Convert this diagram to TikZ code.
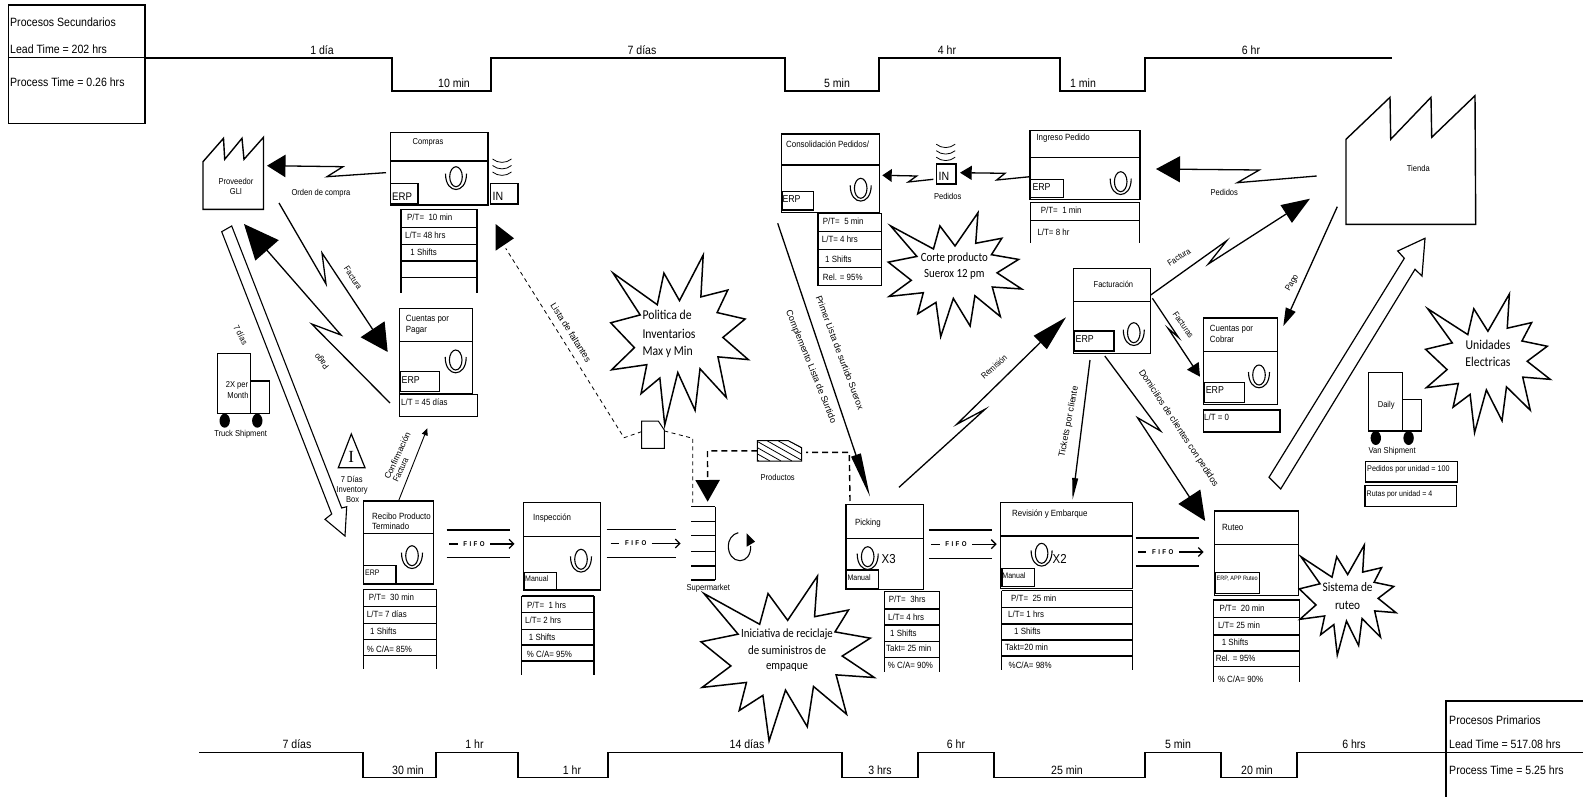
\documentclass[tikz,border=0pt]{standalone}
\usepackage{fontspec}
\setmainfont{Liberation Sans}[FakeStretch=0.88]
\newfontfamily\calfont{Carlito}[FakeStretch=0.87]
\newfontfamily\serfont{Liberation Serif}
\newfontfamily\rotfont{Liberation Sans}
\usetikzlibrary{arrows.meta,calc}
\newcommand\fsz[1]{\fontsize{#1}{#1}\selectfont}
\tikzset{
  boxst/.style={draw=black,line width=1.4pt,fill=white,inner sep=0pt,outer sep=0pt,anchor=north west},
  boxline/.style={line width=1.4pt},
  tline/.style={line width=1.7pt,line join=miter},
  conn/.style={line width=1.3pt,line join=miter},
  dashthin/.style={line width=0.8pt,dash pattern=on 4pt off 3.5pt},
  dashthick/.style={line width=1.4pt,dash pattern=on 6pt off 4pt},
  tleft/.style={anchor=west,inner sep=0pt,font=\fsz{9}},
  tcen/.style={anchor=center,inner sep=0pt,font=\fsz{8.6},align=center},
  tbig/.style={anchor=west,inner sep=0pt,font=\fsz{12}},
  tmid/.style={anchor=center,inner sep=0pt,font=\fsz{12}},
  burstst/.style={draw=black,line width=1.5pt,fill=white,line join=miter},
  bursttext/.style={anchor=center,inner sep=0pt,font=\calfont\fsz{#1}},
  bursttext/.default=12.5,
  ghost/.style={inner sep=0pt,outer sep=0pt,anchor=center},
}
\newcommand\pbox[6]{% name x1 y1 x2 y2 divider
  \pgfmathsetmacro\bxw{#4-#2}\pgfmathsetmacro\bxh{#5-#3}
  \node[boxst,minimum width=\bxw pt,minimum height=\bxh pt] (#1) at (#2,#3) {};
  \draw[boxline] (#2,#6) -- (#4,#6);}
\newcommand\smbox[5]{% name x1 y1 x2 y2
  \pgfmathsetmacro\bxw{#4-#2}\pgfmathsetmacro\bxh{#5-#3}
  \node[boxst,minimum width=\bxw pt,minimum height=\bxh pt] (#1) at (#2,#3) {};}
\newcommand\tl[4]{\node[tleft] (#1) at (#2,#3) {#4};}
\newcommand\tls[5]{\node[tleft,font=\fsz{#5}] (#1) at (#2,#3) {#4};}
\newcommand\tc[4]{\node[tcen] (#1) at (#2,#3) {#4};}
\newcommand\rtl[5]{\node[tcen,rotate=#4] (#1) at (#2,#3) {#5};}
\newcommand\rtw[6]{\node[tcen,rotate=#4,font=\rotfont\fsz{#6}] (#1) at (#2,#3) {#5};}
\newcommand\tb[4]{\node[tbig] (#1) at (#2,#3) {#4};}
\newcommand\tm[4]{\node[tmid] (#1) at (#2,#3) {#4};}
\newcommand\dtable[5]{% x1 x2 ytop yend list
  \draw[boxline] (#1,#3) -- (#1,#4) (#2,#3) -- (#2,#4);
  \foreach \yy in {#5} {\draw[boxline] (#1,\yy) -- (#2,\yy);}}
\newcommand\opicon[2]{\begin{scope}[shift={(#1,#2)}]
  \draw[line width=1.1pt] (0,0) ellipse (6.3pt and 10pt);
  \draw[line width=1.1pt] (-10.5,-3) .. controls (-10.5,8) and (-5,12.8) .. (0,12.8) .. controls (5,12.8) and (10.5,8) .. (10.5,-3);
  \end{scope}}
\newcommand\waves[2]{\begin{scope}[shift={(#1,#2)}]
  \foreach \dd in {0,6.5,13} {\draw[line width=0.8pt] (-9.5,\dd-2.5) .. controls (-4,\dd+2) and (4,\dd+2) .. (9.5,\dd-2.5);}
  \end{scope}}
\newcommand\burst[4]{\pgfmathsetmacro\bxw{#3-#1}\pgfmathsetmacro\bxh{#4-#2}
  \begin{scope}[shift={(#1,#2)},x=\bxw pt,y=-\bxh pt]
  \draw[burstst] (.5,.2685) -- (.6723,0) -- (.6553,.2465) -- (.8509,.2063) -- (.7732,.3387) -- (.9767,.3767) -- (.8151,.4850) -- (1,.6153) -- (.7795,.5992) -- (.8400,.8377) -- (.6491,.6693) -- (.6133,.9137) -- (.4876,.6914) -- (.3928,1) -- (.3572,.7235) -- (.2205,.8156) -- (.2624,.6452) -- (.00625,.6753) -- (.1723,.5451) -- (0,.3988) -- (.2142,.3526) -- (.0171,.1063) -- (.3385,.2926) -- (.3867,.1063) -- cycle;
  \end{scope}}
\newcommand\fifo[7]{% name x1 x2 ytop ybot cx tipdx
  \draw[boxline] (#2,#4) -- (#3,#4) (#2,#5) -- (#3,#5);
  \pgfmathsetmacro\fcy{(#4+#5)/2}
  \node[inner sep=0pt,font=\bfseries\fsz{7}] (#1) at (#6,\fcy) {F\hspace{2.4pt}I\hspace{2.4pt}F\hspace{2.4pt}O};
  \draw[line width=1.3pt] ([xshift=-25pt]#1.center) -- ([xshift=-16.5pt]#1.center);
  \draw[line width=1.3pt,-{Straight Barb[length=4.5pt,width=9pt]}] ([xshift=16pt]#1.center) -- ([xshift=#7 pt]#1.center);}
\newcommand\truck[8]{% bigx1 y1 bigx2 y2 smallx2 smally1 wheel1 wheel2
  \draw[boxline,fill=white] (#1,#2) rectangle (#3,#4);
  \draw[boxline,fill=white] (#3,#6) rectangle (#5,#4);
  \fill (#7,#4+7) ellipse (5.2pt and 7pt);
  \fill (#8,#4+7) ellipse (5.2pt and 7pt);}
\begin{document}
\begin{tikzpicture}[x=1pt,y=-1pt]
\useasboundingbox (0,0) rectangle (1583,797);
% ---------- timelines
\pbox{bsec}{8.4}{5}{145}{123.3}{57.7}
\tb{sec1}{10}{22.7}{Procesos Secundarios}
\tb{sec2}{10}{49.3}{Lead Time = 202 hrs}
\tb{sec3}{10}{82.3}{Process Time = 0.26 hrs}
\draw[tline] (145,57.7) -- (392,57.7) -- (392,90.7) -- (491,90.7) -- (491,57.7) -- (785,57.7) -- (785,90.7) -- (879,90.7) -- (879,57.7) -- (1060,57.7) -- (1060,90.7) -- (1145,90.7) -- (1145,57.7) -- (1392,57.7);
\tm{tt1}{322}{50}{1 día}
\tm{tt2}{454}{83}{10 min}
\tm{tt3}{642}{50}{7 días}
\tm{tt4}{837}{83}{5 min}
\tm{tt5}{947}{50}{4 hr}
\tm{tt6}{1083}{83}{1 min}
\tm{tt7}{1251}{50}{6 hr}
\draw[tline] (199,752.5) -- (363,752.5) -- (363,777.5) -- (436,777.5) -- (436,752.5) -- (518,752.5) -- (518,777.5) -- (608,777.5) -- (608,752.5) -- (842,752.5) -- (842,777.5) -- (918,777.5) -- (918,752.5) -- (994,752.5) -- (994,777.5) -- (1145,777.5) -- (1145,752.5) -- (1221,752.5) -- (1221,777.5) -- (1297,777.5) -- (1297,752.5) -- (1586,752.5);
\draw[tline] (1446,800) -- (1446,701) -- (1586,701);
\tb{pri1}{1449}{720}{Procesos Primarios}
\tb{pri2}{1449}{744}{Lead Time = 517.08 hrs}
\tb{pri3}{1449}{770}{Process Time = 5.25 hrs}
\tm{bt1}{297}{744}{7 días}
\tm{bt2}{408}{770}{30 min}
\tm{bt3}{474.5}{744}{1 hr}
\tm{bt4}{572}{770}{1 hr}
\tm{bt5}{747}{744}{14 días}
\tm{bt6}{880}{770}{3 hrs}
\tm{bt7}{956}{744}{6 hr}
\tm{bt8}{1067}{770}{25 min}
\tm{bt9}{1178}{744}{5 min}
\tm{bt10}{1257}{770}{20 min}
\tm{bt11}{1354}{744}{6 hrs}
% ---------- Proveedor
\draw[boxline,line join=miter,fill=white] (203,161.7) -- (223.5,138.3) -- (224.7,159.3) -- (242,138.3) -- (244,159.3) -- (263.5,137.3) -- (263.5,209.3) -- (203,209.3) -- cycle;
\tc{prov}{236}{186}{Proveedor\\[1.5pt]GLI}
% ---------- Compras
\pbox{compras}{390.5}{132.3}{488}{205}{161}
\tc{comprasT}{428}{142.7}{Compras}
\smbox{comprasE}{390.5}{183.7}{418}{204}
\tls{comprasEt}{392}{196.7}{ERP}{11}
\opicon{456}{176.7}
\smbox{inA}{490.5}{183.7}{518}{204}
\tls{inAt}{492.5}{196.7}{IN}{12}
\waves{502}{161.5}
\dtable{401}{477}{209.3}{292.7}{209.3,227.7,244.3,261,277.7}
\tl{c1}{407}{217.7}{P/T=\ \ 10 min}
\tl{c2}{405}{235}{L/T= 48 hrs}
\tl{c3}{408}{252.7}{\ 1 Shifts}
% ---------- Cuentas por pagar
\pbox{cxp}{399.3}{308.3}{472.7}{394}{341.7}
\tl{cxpT1}{405.7}{319}{Cuentas por}
\tl{cxpT2}{405.7}{330}{Pagar}
\smbox{cxpE}{400}{371.7}{439.3}{391.7}
\tls{cxpEt}{401.5}{379.7}{ERP}{10}
\opicon{455.7}{360}
\smbox{cxpLT}{399.3}{394.3}{477.3}{416.7}
\tl{cxpL}{401}{402}{L/T = 45 días}
% ---------- Truck
\truck{217.7}{353.7}{250.3}{413.7}{269.3}{381}{224.7}{257.3}
\tc{tr1}{237}{385}{2X per}
\tc{tr2}{238}{395.7}{Month}
\tc{tr3}{240.7}{434}{Truck Shipment}
\rtl{sie}{240.7}{335}{-62}{7 días}
% ---------- 7 dias push arrow
\draw[line width=1.1pt,line join=miter,fill=white] (221.7,231.7) -- (231.7,226) -- (341.7,508) -- (346.7,506.7) -- (345,536) -- (325,519.3) -- (331.7,514) -- cycle;
% ---------- Inventory
\draw[line width=1.2pt,line join=miter,fill=white] (351.3,434) -- (365,467.7) -- (338.3,467.7) -- cycle;
\node[inner sep=0pt,font=\serfont\fsz{17}] (invI) at (351.3,457) {I};
\tc{inv1}{351.7}{479}{7 Días}
\tc{inv2}{352}{490}{Inventory}
\tc{inv3}{352.7}{500}{Box}
% ---------- Recibo
\pbox{recibo}{363.3}{501}{433.7}{584}{533.3}
\tl{recT1}{372}{516.7}{Recibo Producto}
\tl{recT2}{372}{526.7}{Terminado}
\smbox{recE}{363.3}{565.7}{396}{584}
\tls{recEt}{365}{573}{ERP}{8}
\opicon{412}{555.7}
\dtable{363.3}{436.3}{589.3}{669.3}{589.3,606.7,623.3,639.3,655.7}
\tl{r1}{368.7}{597.7}{P/T=\ \ 30 min}
\tl{r2}{366.7}{614.7}{L/T= 7 días}
\tl{r3}{370}{631.7}{1 Shifts}
\tl{r4}{366.7}{649.7}{\% C/A= 85\%}
% ---------- Inspeccion
\pbox{insp}{523.3}{502.3}{600.7}{590}{536.7}
\tl{inspT}{533}{517.7}{Inspección}
\smbox{inspE}{524}{572.3}{556.7}{590}
\tls{inspEt}{525}{579}{Manual}{8}
\opicon{581}{559.3}
\dtable{521.7}{594}{596}{675}{596,612.7,629.3,645,661}
\tl{i1}{527}{605}{P/T=\ \ 1 hrs}
\tl{i2}{525}{620.7}{L/T= 2 hrs}
\tl{i3}{528.7}{637.7}{1 Shifts}
\tl{i4}{526.7}{654.7}{\% C/A= 95\%}
% ---------- Supermarket
\node[ghost,minimum width=24.3pt,minimum height=73.3pt] (sm) at (703.15,543.35) {};
\foreach \yy in {506.7,521.7,535.7,551.7,566,580} {\draw[boxline] (691,\yy) -- (715.3,\yy);}
\draw[boxline] (715.3,506.7) -- (715.3,580);
\tc{smT}{708.3}{588.7}{Supermarket}
\draw[line width=1.1pt] (738.3,532.7) .. controls (732,534) and (728.3,540) .. (728.3,546) .. controls (728.3,554) and (733,560.7) .. (740,560.7) .. controls (746,560.7) and (751,555) .. (750.7,546);
\fill (746.7,533.3) -- (755,541.7) -- (746.7,546.7) -- cycle;
% ---------- Picking
\pbox{pick}{846}{504.7}{923.7}{589.3}{538.3}
\tl{pickT}{855}{523}{Picking}
\smbox{pickE}{846.7}{570}{878.3}{588.7}
\tls{pickEt}{847.3}{577.3}{Manual}{8}
\opicon{867.7}{556.7}
\tls{pickX}{881.5}{559.3}{X3}{13}
\dtable{884.3}{939.7}{591.3}{671.7}{591.3,609,625,641.3,657.3}
\tl{p1}{888.7}{599.7}{P/T=\ \ 3hrs}
\tl{p2}{888}{617}{L/T= 4 hrs}
\tl{p3}{890}{633.7}{1 Shifts}
\tl{p4}{886}{648.7}{Takt= 25 min}
\tl{p5}{887.7}{665.7}{\% C/A= 90\%}
% ---------- Revision
\pbox{rev}{1000.7}{502.7}{1132.7}{588.3}{536}
\tl{revT}{1012}{513.7}{Revisión y Embarque}
\smbox{revE}{1001.9}{568.3}{1034.6}{586.7}
\tls{revEt}{1002.2}{576}{Manual}{8}
\opicon{1041.6}{553.3}
\tls{revX}{1052.5}{559.3}{X2}{13}
\dtable{1001.5}{1132.7}{590.7}{670}{590.7,607.7,624,640,656}
\tl{v1}{1011}{598.7}{P/T=\ \ 25 min}
\tl{v2}{1008}{614.7}{L/T= 1 hrs}
\tl{v3}{1014}{631.7}{1 Shifts}
\tl{v4}{1005}{647.7}{Takt=20 min}
\tl{v5}{1008.5}{665.7}{\%C/A= 98\%}
% ---------- Ruteo
\pbox{rut}{1214.5}{511}{1298.5}{595.7}{544.3}
\tl{rutT}{1222}{527.7}{Ruteo}
\smbox{rutE}{1215.6}{572.7}{1259.5}{593.3}
\tls{rutEt}{1216.4}{578.7}{ERP, APP Ruteo}{6.3}
\dtable{1213.4}{1299.6}{600}{682}{600,617.7,635,651,666.7}
\tl{u1}{1219.3}{608.7}{P/T=\ \ 20 min}
\tl{u2}{1217.8}{625.7}{L/T= 25 min}
\tl{u3}{1221.6}{642.7}{1 Shifts}
\tl{u4}{1215.6}{658}{Rel. = 95\%}
\tl{u5}{1217.8}{679.5}{\% C/A= 90\%}
% ---------- FIFO
\fifo{f1}{446.7}{510}{530}{557.7}{474}{40.5}
\fifo{f2}{606.7}{675.7}{529.3}{557.7}{635.7}{45}
\fifo{f3}{929}{992.3}{530}{558.3}{956}{40.7}
\fifo{f4}{1135.7}{1199.3}{538}{566}{1162.8}{40.9}
% ---------- Consolidacion
\pbox{cons}{781.3}{134}{879.3}{212.3}{165}
\tl{consT}{786}{144.3}{Consolidación Pedidos/}
\smbox{consE}{782}{191.7}{813.3}{210}
\tls{consEt}{782.3}{199}{ERP}{10}
\opicon{860.7}{188.3}
\dtable{818}{881.7}{213.3}{285.7}{213.3,231.7,249.3,267.7,285.7}
\tl{o1}{822.7}{221.3}{P/T=\ \ 5 min}
\tl{o2}{821.7}{239.7}{L/T= 4 hrs}
\tl{o3}{825}{259}{1 Shifts}
\tl{o4}{822.7}{277}{Rel. = 95\%}
% ---------- IN Pedidos
\smbox{inB}{936.7}{164}{956}{184}
\tls{inBt}{938.5}{176}{IN}{12}
\waves{945.7}{146.7}
\tc{pedB}{947.7}{196}{Pedidos}
% ---------- Ingreso Pedido
\pbox{ing}{1030}{130.7}{1140}{199.3}{157.7}
\tl{ingT}{1036.3}{138}{Ingreso Pedido}
\smbox{ingE}{1030.7}{179.3}{1063.3}{197.3}
\tls{ingEt}{1032.3}{186.7}{ERP}{10}
\opicon{1120.7}{181.7}
\dtable{1030.7}{1139.7}{202.3}{243}{202.3,220.7}
\tl{n1}{1040.7}{210}{P/T=\ \ 1 min}
\tl{n2}{1037.3}{232.7}{L/T= 8 hr}
% ---------- Facturacion
\pbox{fact}{1073.6}{268.3}{1150.6}{353.3}{301.7}
\tc{factT}{1113.4}{284.7}{Facturación}
\smbox{factE}{1074.3}{331}{1114}{351}
\tls{factEt}{1075.5}{338.7}{ERP}{10}
\opicon{1133.8}{332.7}
% ---------- Cuentas por cobrar
\pbox{cxc}{1203.3}{318}{1277.3}{404.3}{351.3}
\tl{cxcT1}{1209.7}{329}{Cuentas por}
\tl{cxcT2}{1209.7}{339.7}{Cobrar}
\smbox{cxcE}{1204.5}{382.3}{1244.2}{402.3}
\tls{cxcEt}{1205.6}{389.7}{ERP}{10}
\opicon{1259}{375}
\smbox{cxcLT}{1203.3}{410}{1280}{432}
\tl{cxcL}{1204}{417.7}{L/T = 0}
% ---------- Tienda
\draw[boxline,line join=miter,fill=white] (1346,139.3) -- (1390,97.3) -- (1390.7,139.3) -- (1431,97.3) -- (1431.7,137.3) -- (1475,95.7) -- (1475.7,224.3) -- (1346,224.3) -- cycle;
\tc{tienda}{1418.3}{168.7}{Tienda}
% ---------- big shipment arrow
\draw[line width=1.2pt,line join=miter,fill=white] (1269,477.3) -- (1404.3,258.3) -- (1397.7,251) -- (1425,238.3) -- (1422,276) -- (1415,269.3) -- (1280.7,489) -- cycle;
% ---------- Van
\truck{1368.4}{372.3}{1402.6}{431}{1421.2}{399.3}{1375.8}{1408.6}
\tc{vanD}{1386.2}{405}{Daily}
\tc{vanT}{1392.2}{451.7}{Van Shipment}
\smbox{vanA}{1365.4}{461.7}{1457.2}{482}
\tls{vanAt}{1367}{469.7}{Pedidos por unidad = 100}{8.2}
\smbox{vanB}{1365}{485.7}{1456.5}{506.7}
\tls{vanBt}{1366.5}{494}{Rutas por unidad = 4}{8}
% ---------- bursts
\burst{610.7}{255}{748.3}{425}
\node[bursttext=13.5,anchor=west] (polA) at (642.3,315) {Politica de};
\node[bursttext=13.5,anchor=west] (polB) at (642.3,334) {Inventarios};
\node[bursttext=13.5,anchor=west] (polC) at (642.3,352.3) {Max y Min};
\burst{701}{576}{874.3}{741}
\node[bursttext] (iniA) at (787,634) {Iniciativa de reciclaje};
\node[bursttext] (iniB) at (787,650) {de suministros de};
\node[bursttext] (iniC) at (787,667) {empaque};
\burst{888.3}{212.7}{1021.7}{336.7}
\node[bursttext] (corA) at (954.3,258.3) {Corte producto};
\node[bursttext] (corB) at (954.3,274.3) {Suerox 12 pm};
\burst{1425.6}{294}{1550.2}{432.7}
\node[bursttext=13.5] (uniA) at (1488,344.7) {Unidades};
\node[bursttext=13.5] (uniB) at (1488,362.3) {Electricas};
\burst{1299.3}{545}{1396}{655}
\node[bursttext=13] (sisA) at (1347.6,586.7) {Sistema de};
\node[bursttext=13] (sisB) at (1347.6,605) {ruteo};
% ---------- kanban doc
\node[ghost,minimum width=22.6pt,minimum height=27.3pt] (kan) at (653,434.65) {};
\draw[line width=1pt,line join=miter,fill=white] (641.7,421) -- (658.3,421) -- (664.3,430) -- (664.3,448.3) -- (641.7,448.3) -- cycle;
% ---------- productos
\node[ghost,minimum width=44.4pt,minimum height=20.3pt] (prd) at (779.5,450.85) {};
\begin{scope}
\clip (757.3,440.7) -- (788.3,440.7) -- (801.7,447.7) -- (801.7,461) -- (757.3,461) -- cycle;
\foreach \xx in {712,723,...,800} {\draw[line width=0.8pt] (\xx,440.7) -- (\xx+36,461);}
\end{scope}
\draw[line width=1pt,line join=miter] (757.3,440.7) -- (788.3,440.7) -- (801.7,447.7) -- (801.7,461) -- (757.3,461) -- cycle;
\tc{prdT}{777.7}{477.7}{Productos}
% ---------- connectors
\draw[conn,-{Triangle[length=18.5pt,width=22.4pt]}] ([shift={(-4.5,4)}]compras.west) -- (327,176.7) -- (343,166.7) -- ([shift={(31,-20.3)}]prov.center);
\tc{ocT}{321}{193.7}{Orden de compra}
\draw[conn,-{Triangle[length=27.3pt,width=28.5pt]}] ([shift={(43,17)}]prov.center) -- (326,284) -- (322,253) -- ([shift={(-11.6,.85)}]cxp.west);
\rtl{facT}{353}{278}{-57}{Factura}
\draw[conn,-{Triangle[length=35pt,width=30.8pt]}] ([shift={(-9.3,-2.5)}]cxpLT.west) -- (311.7,324) -- (341,335) -- ([shift={(8,38)}]prov.center);
\rtl{pagT}{322}{361}{130}{Pago}
\draw[line width=.9pt,-{Triangle[length=7pt,width=6pt]}] (recibo.north) -- ([shift={(-11,11.6)}]cxpLT.south);
\rtw{cfA}{397.3}{455.7}{65}{Confirmación}{8.6}
\rtl{cfB}{400.7}{470}{65}{Factura}
% Lista de faltantes
\draw[dashthin] ([yshift=3pt]kan.west) -- (624,437.7) -- (505.7,248.3);
\fill (495.6,224) -- (514,238.3) -- (495.6,250.7) -- cycle;
\rtw{lisT}{571}{332.5}{-58}{Lista de faltantes}{9}
\draw[dashthin] ([yshift=3.7pt]kan.east) -- (692.7,438.3) -- ([shift={(1.7,-4)}]sm.north west);
\draw[dashthick,-{Triangle[length=21.7pt,width=24.3pt]}] (prd.west) -- (707.5,450.85) -- ([shift={(4.5,-5)}]sm.north);
\draw[dashthick] ([shift={(4,-3.7)}]pick.north west) -- (849.3,452.3) -- ([shift={(4.3,1.5)}]prd.east);
% Complemento
\draw[conn,-{Triangle[length=44pt,width=10pt]}] ([shift={(-52.6,11)}]cons.south) -- ([shift={(-14.85,-8)}]pick.north);
\rtw{priT}{840}{352.7}{-69.4}{Primer Lista de surtido Suerox}{9}
\rtw{comT}{810.7}{366.7}{-68}{Complemento Lista de Surtido}{9}
% Remision
\draw[conn,-{Triangle[length=36pt,width=18.5pt]}] ([shift={(14.15,-17.4)}]pick.north) -- (985,409.3) -- (956.7,424.3) -- ([shift={(-7.6,6.5)}]fact.west);
\rtl{remT}{994}{366.7}{42}{Remisión}
% Facturas
\draw[conn,-{Triangle[length=13pt,width=13.7pt]}] ([shift={(1.8,30)}]fact.north east) -- (1178.4,337.3) -- (1168,328.3) -- ([shift={(-3.3,15.55)}]cxc.west);
\rtl{ftsT}{1183.3}{325}{-55}{Facturas}
% Factura a tienda
\draw[conn,-{Triangle[length=28.3pt,width=20.8pt]}] ([shift={(.1,26.7)}]fact.north east) -- (1226.7,240.7) -- (1208.3,264) -- ([shift={(-108.3,30)}]tienda.center);
\rtl{ftT}{1179}{257.3}{33}{Factura}
% Pago tienda
\draw[conn,-{Triangle[length=18pt,width=10.5pt]}] ([shift={(-81,38)}]tienda.center) -- ([shift={(6,8)}]cxc.north east);
\rtl{pgT}{1292.3}{283.3}{60}{Pago}
% Pedidos
\draw[conn,-{Triangle[length=24pt,width=26pt]}] ([shift={(-101.6,7.3)}]tienda.center) -- (1237.3,182.7) -- (1259.3,170) -- ([shift={(16,4)}]ing.east);
\tc{pdT}{1224.3}{192.7}{Pedidos}
% Ingreso -> IN -> Consolidacion
\draw[conn,-{Triangle[length=11.7pt,width=14pt]}] ([shift={(0,11.7)}]ing.west) -- (996.7,180) -- (1005,173.3) -- ([shift={(4,-1.3)}]inB.east);
\draw[conn,-{Triangle[length=9.4pt,width=12.7pt]}] ([shift={(-3.4,5.3)}]inB.west) -- (908.3,182) -- (916.7,176) -- ([shift={(3,2.15)}]cons.east);
% Tickets
\draw[conn,-{Triangle[length=22pt,width=5.7pt]}] ([shift={(-22.1,6.7)}]fact.south) -- ([shift={(5.8,-2.7)}]rev.north);
\rtw{tkT}{1069}{421.7}{79}{Tickets por cliente}{9}
% Domicilios
\draw[conn,-{Triangle[length=29pt,width=26pt]}] ([shift={(-7.3,2.7)}]fact.south) -- (1160.6,431) -- (1137.5,417.7) -- ([shift={(-9.3,10)}]rut.north west);
\rtw{doT}{1178.4}{428.3}{-56.7}{Domicilios de clientes con pedidos}{9}
\end{tikzpicture}
\end{document}
